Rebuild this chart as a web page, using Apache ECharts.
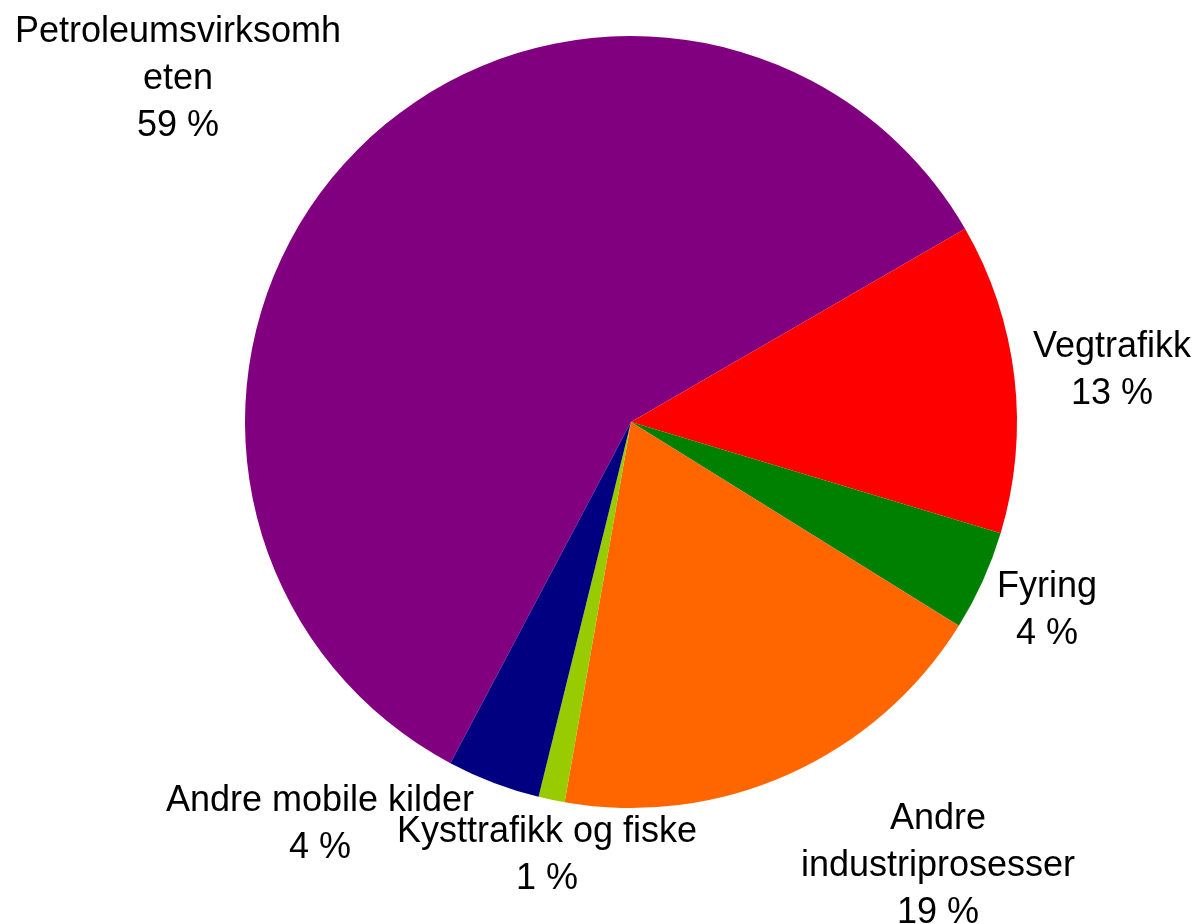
<!DOCTYPE html>
<html>
<head>
<meta charset="utf-8">
<title>Utslipp</title>
<script src="https://cdn.jsdelivr.net/npm/echarts@6/dist/echarts.min.js"></script>
<style>
    html, body { margin: 0; padding: 0; background: #fff; }
    #chart { width: 1200px; height: 924px; }
</style>
</head>
<body>
<div id="chart"></div>
<script>
// kategorier og andeler (prosent)
const categories = ['Petroleumsvirksomheten', 'Vegtrafikk', 'Fyring', 'Andre industriprosesser', 'Kysttrafikk og fiske', 'Andre mobile kilder']
const shares = [58.9, 13.0, 4.2, 18.9, 1.1, 3.9]
// etikettekst slik den er brutt i originalen
const labelTexts = ['Petroleumsvirksomh\neten', 'Vegtrafikk', 'Fyring', 'Andre\nindustriprosesser', 'Kysttrafikk og fiske', 'Andre mobile kilder']

const colors = ['#800080', '#FF0000', '#008000', '#FF6600', '#99CC00', '#000080']
// plassering av etikettene (midtpunkt)
const labelPos = [[178, 79], [1112, 371], [1047, 611], [938, 866], [547, 856], [320, 825]]

const chartInstance = echarts.init(document.getElementById('chart'))

const option = {
    animation: false,
    color: colors,
    series: [
        {
            type: 'pie',
            center: [631, 422],
            radius: 386,
            startAngle: 242.1,
            clockwise: true,
            avoidLabelOverlap: false,
            percentPrecision: 0,
            itemStyle: {
                borderWidth: 0
            },
            label: {
                show: true,
                position: 'outside',
                color: '#000',
                fontFamily: 'Liberation Sans, Arial, sans-serif',
                fontSize: 36,
                lineHeight: 47,
                align: 'center',
                formatter: (p) => {
                    return labelTexts[p.dataIndex] + '\n' + Math.round(p.percent) + ' %'
                }
            },
            labelLine: {
                show: false
            },
            labelLayout: (params) => {
                const pos = labelPos[params.dataIndex]
                return {
                    x: pos[0],
                    y: pos[1],
                    align: 'center',
                    verticalAlign: 'middle'
                }
            },
            emphasis: { disabled: true },
            data: categories.map((name, i) => {
                return { name: name, value: shares[i] }
            })
        }
    ]
}
chartInstance.setOption(option)
</script>
</body>
</html>
